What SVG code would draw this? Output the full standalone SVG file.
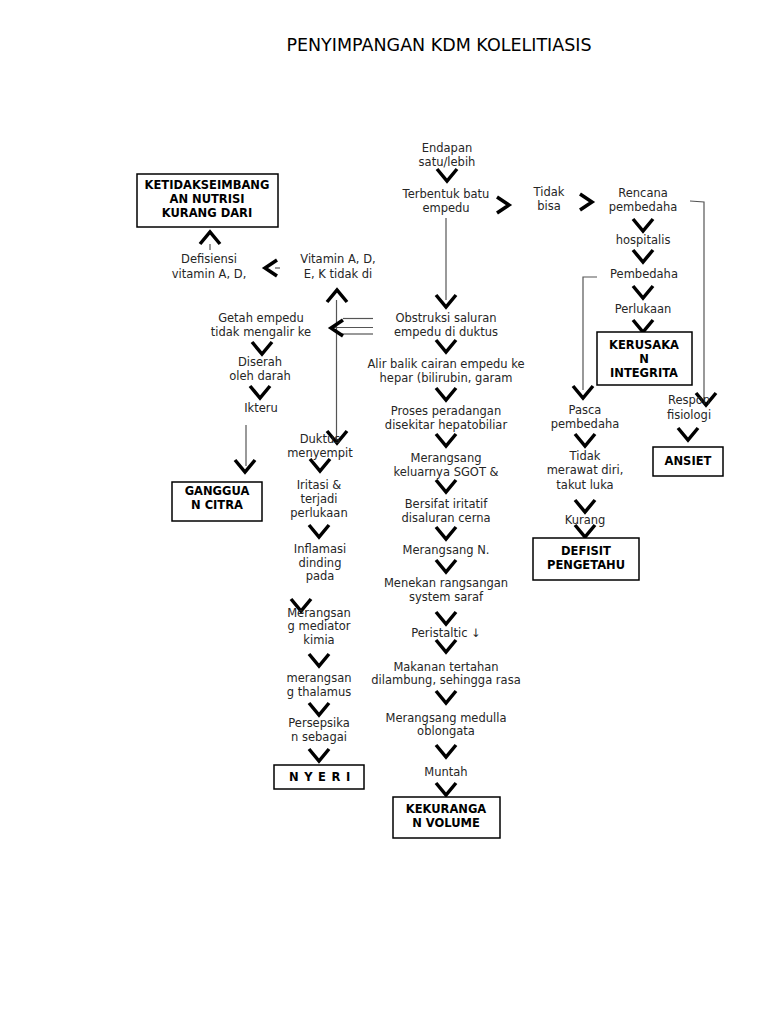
<svg xmlns="http://www.w3.org/2000/svg" xmlns:xlink="http://www.w3.org/1999/xlink" width="768" height="1024" viewBox="0 0 768 1024">
<style>
text{font-family:"DejaVu Sans","Liberation Sans",sans-serif;font-size:11.5px;fill:#262626;text-anchor:middle}
.b{font-weight:bold;fill:#000;font-size:11.5px}
.t{font-size:17.5px;fill:#000}
.box{fill:#fff;stroke:#000;stroke-width:1.5}
.ch{fill:none;stroke:#000;stroke-width:3.5}
.ln{fill:none;stroke:#555;stroke-width:1.2}
</style>
<defs>
<path id="cd" class="ch" d="M-10,-6 L0,6 L10,-6"/>
<path id="cu" class="ch" d="M-10,6 L0,-6 L10,6"/>
<path id="cl" class="ch" d="M6,-8 L-6,0 L6,8"/>
<path id="cr" class="ch" d="M-6,-8 L6,0 L-6,8"/>
</defs>
<rect width="768" height="1024" fill="#fff"/>
<text class="t" x="439" y="51">PENYIMPANGAN KDM KOLELITIASIS</text>

<g id="connectors">
<line class="ln" x1="446" y1="218" x2="446" y2="300"/>
<polyline class="ln" points="690,201 704,202 704,404"/>
<polyline class="ln" points="597,277 583,277 583,390"/>
<line class="ln" x1="336.5" y1="300" x2="336.5" y2="440"/>
<line class="ln" x1="246" y1="425" x2="246" y2="466"/>
<line class="ln" x1="210" y1="244" x2="210" y2="250"/>
<line class="ln" x1="343" y1="318.5" x2="373" y2="318.5"/>
<line class="ln" x1="333" y1="327.5" x2="373" y2="327.5"/>
<line class="ln" x1="341" y1="334" x2="373" y2="334"/>
<line class="ln" x1="275" y1="268" x2="280" y2="268"/>
<use href="#cd" x="447" y="175"/>
<use href="#cr" x="503" y="205"/>
<use href="#cr" x="586" y="202"/>
<use href="#cd" x="643" y="225"/>
<use href="#cd" x="643" y="256"/>
<use href="#cd" x="643" y="292"/>
<use href="#cd" x="643" y="326"/>
<use href="#cd" x="706" y="399"/>
<use href="#cd" x="583" y="392"/>
<use href="#cd" x="585" y="440"/>
<use href="#cd" x="585" y="506"/>
<use href="#cd" x="585" y="531"/>
<use href="#cd" x="688" y="434"/>
<use href="#cu" x="210" y="238"/>
<use href="#cl" x="271" y="268"/>
<use href="#cu" x="337" y="296"/>
<use href="#cl" x="337" y="328"/>
<use href="#cd" x="337" y="437"/>
<use href="#cd" x="262" y="348"/>
<use href="#cd" x="260" y="392"/>
<use href="#cd" x="245" y="466"/>
<use href="#cd" x="320" y="465"/>
<use href="#cd" x="319" y="531"/>
<use href="#cd" x="301" y="605"/>
<use href="#cd" x="319" y="660"/>
<use href="#cd" x="319" y="709"/>
<use href="#cd" x="319" y="755"/>
<use href="#cd" x="446" y="301"/>
<use href="#cd" x="446" y="346"/>
<use href="#cd" x="446" y="394"/>
<use href="#cd" x="446" y="440"/>
<use href="#cd" x="446" y="486"/>
<use href="#cd" x="446" y="533"/>
<use href="#cd" x="446" y="566"/>
<use href="#cd" x="446" y="618"/>
<use href="#cd" x="446" y="646"/>
<use href="#cd" x="446" y="697"/>
<use href="#cd" x="446" y="751"/>
<use href="#cd" x="446" y="789"/>
</g>

<g id="n-endapan"><text x="447" y="152">Endapan</text><text x="447" y="166">satu/lebih</text></g>
<g id="n-terbentuk"><text x="446" y="198">Terbentuk batu</text><text x="446" y="212">empedu</text></g>
<g id="n-tidakbisa"><text x="549" y="196">Tidak</text><text x="549" y="210">bisa</text></g>
<g id="n-rencana"><text x="643" y="197">Rencana</text><text x="643" y="211">pembedaha</text></g>
<g id="n-hospitalis"><text x="643" y="244">hospitalis</text></g>
<g id="n-pembedaha"><text x="644" y="278">Pembedaha</text></g>
<g id="n-perlukaan"><text x="643" y="313">Perlukaan</text></g>
<g id="n-kerusakan"><rect class="box" x="597" y="332" width="95" height="53"/><text class="b" x="644" y="349">KERUSAKA</text><text class="b" x="644" y="363">N</text><text class="b" x="644" y="377">INTEGRITA</text></g>
<g id="n-pasca"><text x="585" y="414">Pasca</text><text x="585" y="428">pembedaha</text></g>
<g id="n-tidakmerawat"><text x="585" y="460">Tidak</text><text x="585" y="474">merawat diri,</text><text x="585" y="489">takut luka</text></g>
<g id="n-kurang"><text x="585" y="524">Kurang</text></g>
<g id="n-defisit"><rect class="box" x="533" y="538" width="106" height="42"/><text class="b" x="586" y="555">DEFISIT</text><text class="b" x="586" y="569">PENGETAHU</text></g>
<g id="n-respon"><text x="689" y="404">Respon</text><text x="689" y="419">fisiologi</text></g>
<g id="n-ansietas"><rect class="box" x="653" y="447" width="70" height="29"/><text class="b" x="688" y="465">ANSIET</text></g>

<g id="n-ketidak"><rect class="box" x="137" y="174" width="141" height="53"/><text class="b" x="207" y="189">KETIDAKSEIMBANG</text><text class="b" x="207" y="203">AN NUTRISI</text><text class="b" x="207" y="217">KURANG DARI</text></g>
<g id="n-defisiensi"><text x="209" y="263">Defisiensi</text><text x="209" y="278">vitamin A, D,</text></g>
<g id="n-vitamin"><text x="338" y="263">Vitamin A, D,</text><text x="338" y="278">E, K tidak di</text></g>
<g id="n-getah"><text x="261" y="322">Getah empedu</text><text x="261" y="336">tidak mengalir ke</text></g>
<g id="n-diserah"><text x="260" y="366">Diserah</text><text x="260" y="380">oleh darah</text></g>
<g id="n-ikterus"><text x="261" y="412">Ikteru</text></g>
<g id="n-gangguan"><rect class="box" x="172" y="482" width="90" height="39"/><text class="b" x="217" y="495">GANGGUA</text><text class="b" x="217" y="509">N CITRA</text></g>
<g id="n-duktus"><text x="320" y="443">Duktus</text><text x="320" y="457">menyempit</text></g>
<g id="n-iritasi"><text x="319" y="489">Iritasi &amp;</text><text x="319" y="503">terjadi</text><text x="319" y="517">perlukaan</text></g>
<g id="n-inflamasi"><text x="320" y="553">Inflamasi</text><text x="320" y="567">dinding</text><text x="320" y="580">pada</text></g>
<g id="n-mediator"><text x="319" y="617">Merangsan</text><text x="319" y="630">g mediator</text><text x="319" y="644">kimia</text></g>
<g id="n-thalamus"><text x="319" y="682">merangsan</text><text x="319" y="696">g thalamus</text></g>
<g id="n-persepsi"><text x="319" y="727">Persepsika</text><text x="319" y="741">n sebagai</text></g>
<g id="n-nyeri"><rect class="box" x="274" y="765" width="90" height="24"/><text class="b" x="320" y="781" letter-spacing="0.8">N Y E R I</text></g>

<g id="n-obstruksi"><text x="446" y="322">Obstruksi saluran</text><text x="446" y="336">empedu di duktus</text></g>
<g id="n-alir"><text x="446" y="368">Alir balik cairan empedu ke</text><text x="446" y="382">hepar (bilirubin, garam</text></g>
<g id="n-proses"><text x="446" y="415">Proses peradangan</text><text x="446" y="429">disekitar hepatobiliar</text></g>
<g id="n-sgot"><text x="446" y="462">Merangsang</text><text x="446" y="476">keluarnya SGOT &amp;</text></g>
<g id="n-iritatif"><text x="446" y="508">Bersifat iritatif</text><text x="446" y="522">disaluran cerna</text></g>
<g id="n-mn"><text x="446" y="554">Merangsang N.</text></g>
<g id="n-menekan"><text x="446" y="587">Menekan rangsangan</text><text x="446" y="601">system saraf</text></g>
<g id="n-peristaltic"><text x="446" y="637">Peristaltic ↓</text></g>
<g id="n-makanan"><text x="446" y="671">Makanan tertahan</text><text x="446" y="684">dilambung, sehingga rasa</text></g>
<g id="n-medulla"><text x="446" y="722">Merangsang medulla</text><text x="446" y="735">oblongata</text></g>
<g id="n-muntah"><text x="446" y="776">Muntah</text></g>
<g id="n-kekurangan"><rect class="box" x="393" y="797" width="107" height="41"/><text class="b" x="446" y="813">KEKURANGA</text><text class="b" x="446" y="827">N VOLUME</text></g>
</svg>
